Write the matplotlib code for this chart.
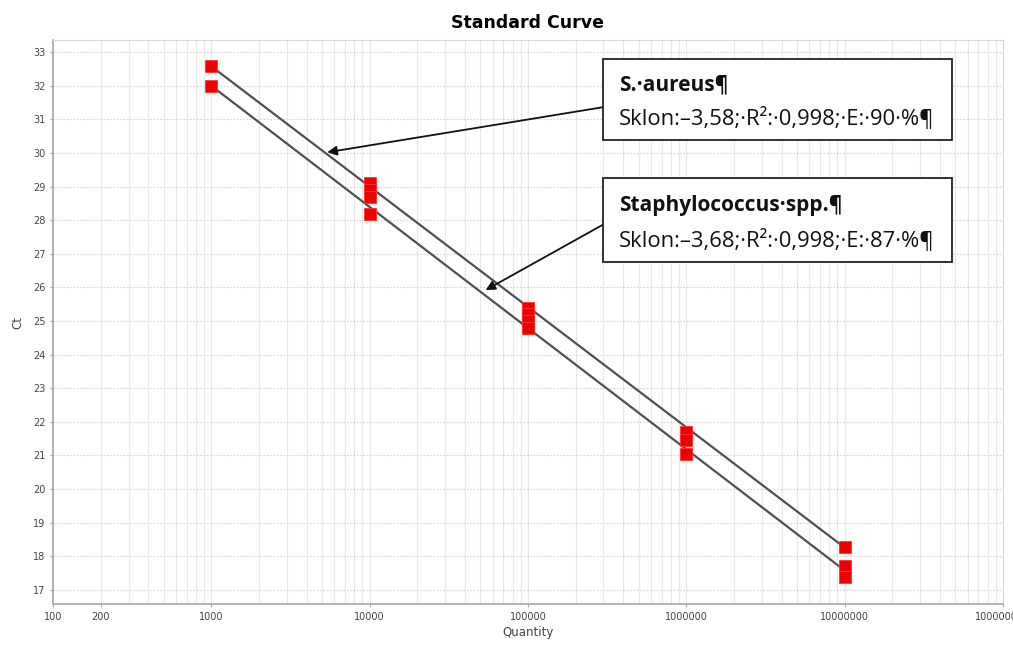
import numpy as np
import matplotlib.pyplot as plt
from matplotlib.ticker import FixedLocator, LogLocator, NullFormatter

# data
quantity = [1e3, 1e3, 1e4, 1e4, 1e4, 1e4, 1e5, 1e5, 1e5, 1e5,
            1e6, 1e6, 1e6, 1e7, 1e7, 1e7]
ct = [32.58, 32.0, 29.1, 28.9, 28.7, 28.18, 25.4, 25.2, 25.0, 24.8,
      21.7, 21.45, 21.05, 18.27, 17.7, 17.38]

# fitted standard curves (Ct at 1000 copies, slope per decade)
fit_names = ["S. aureus", "Staphylococcus spp."]
fit_ct_1000 = [32.58, 32.0]
fit_slope = [-3.58, -3.605]
fit_range = [1e3, 1e7]

box_title = ["S.·aureus¶", "Staphylococcus·spp.¶"]
box_text = ["Sklon:–3,58;·R²:·0,998;·E:·90·%¶",
            "Sklon:–3,68;·R²:·0,998;·E:·87·%¶"]

xticks = [100, 200, 1000, 10000, 100000, 1000000, 10000000, 100000000]
yticks = list(range(17, 34))

fig = plt.figure(figsize=(10.13, 6.46), dpi=100)
ax = fig.add_axes([0.0523, 0.065, 0.9377, 0.873])

ax.set_xscale("log")
ax.set_xlim(100, 1e8)
ax.set_ylim(16.58, 33.36)

# grid
ax.xaxis.set_minor_locator(LogLocator(base=10, subs=np.arange(2, 10)))
ax.xaxis.set_minor_formatter(NullFormatter())
ax.grid(True, which="both", axis="x", color="#e8e8e8", lw=0.8)
ax.grid(True, which="major", axis="y", color="#d4d4d4", lw=0.8, ls=(0, (1.5, 1.5)))
ax.set_axisbelow(True)

# curves
xs = np.array(fit_range)
for c0, s in zip(fit_ct_1000, fit_slope):
    ax.plot(xs, c0 + s * (np.log10(xs) - 3), color="#505050", lw=1.6, zorder=2)

ax.plot(quantity, ct, ls="none", marker="s", ms=9, color="#ee0000",
        mec="#ff3333", mew=0.6, zorder=3)

ax.xaxis.set_major_locator(FixedLocator(xticks))
ax.set_xticklabels([str(v) for v in xticks])
ax.set_yticks(yticks)
ax.tick_params(axis="both", which="both", labelsize=7, labelcolor="#444444",
               color="#aaaaaa", length=2)
ax.tick_params(axis="x", which="minor", length=0)

for side in ["left", "bottom"]:
    ax.spines[side].set_color("#a8a8a8")
    ax.spines[side].set_linewidth(1.2)
for side in ["top", "right"]:
    ax.spines[side].set_color("#d8d8d8")

ax.set_title("Standard Curve", fontsize=12.5, fontweight="bold", pad=9)
ax.set_xlabel("Quantity", fontsize=8.5, color="#444444", labelpad=3)
ax.set_ylabel("Ct", fontsize=8.5, color="#444444", labelpad=6)

# annotation boxes with arrows
box_xy = [(0.595, 0.908), (0.595, 0.7245)]
box_h = [0.125, 0.130]
title_off = [0.0396, 0.042]
text_off = [0.0907, 0.0975]
arrow_from = [0.834, 0.652]
arrow_to = [(5.4e3, 30.02), (5.4e4, 25.92)]
for i in range(2):
    bx, by = box_xy[i]
    rect = plt.Rectangle((bx, by - box_h[i]), 0.345, box_h[i], transform=fig.transFigure,
                         fill=True, fc="white", ec="#222222", lw=1.3, zorder=5)
    fig.add_artist(rect)
    fig.text(bx + 0.016, by - title_off[i], box_title[i], fontsize=15, fontweight="bold",
             family=["Open Sans", "DejaVu Sans"], va="center", color="#111111", zorder=6)
    fig.text(bx + 0.016, by - text_off[i], box_text[i], fontsize=15.8,
             family=["Open Sans", "DejaVu Sans"], va="center", color="#111111", zorder=6)
    ax.annotate("", xy=arrow_to[i], xycoords="data",
                xytext=(bx, arrow_from[i]), textcoords="figure fraction",
                arrowprops=dict(arrowstyle="-|>", color="#111111", lw=1.3,
                                mutation_scale=14, shrinkA=0, shrinkB=0),
                zorder=4)

fig.savefig("out.png", dpi=100)
